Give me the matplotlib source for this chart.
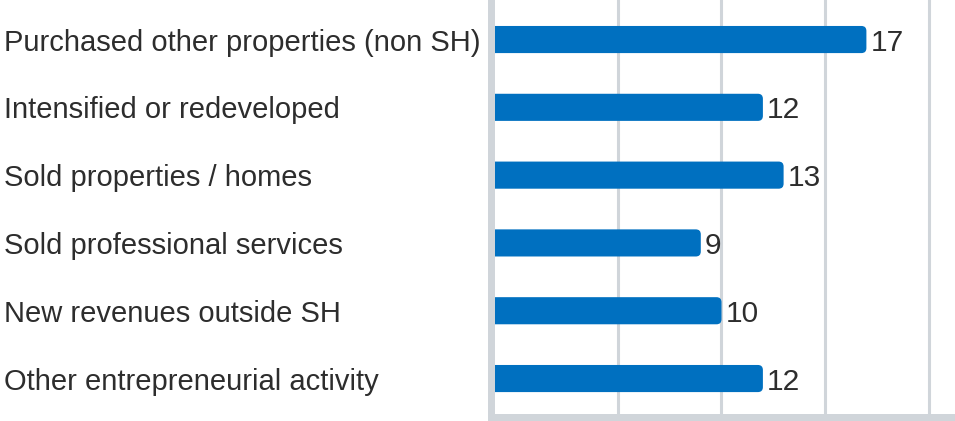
import matplotlib
matplotlib.use("Agg")
import matplotlib.pyplot as plt
from matplotlib.patches import FancyBboxPatch

categories = [
    "Purchased other properties (non SH)",
    "Intensified or redeveloped",
    "Sold properties / homes",
    "Sold professional services",
    "New revenues outside SH",
    "Other entrepreneurial activity",
]
values = [17, 12, 13, 9, 10, 12]
grid_ticks = [5, 10, 15, 20]

BAR = "#0070c0"
GRID = "#d0d5da"
TEXT = "#2d2d2d"

W, H, DPI = 955, 421, 100
fig = plt.figure(figsize=(W / DPI, H / DPI), dpi=DPI)
ax_left_px, ax_bottom_px = 491, 4.5
ax = fig.add_axes([ax_left_px / W, ax_bottom_px / H, 1 - ax_left_px / W, 1 - ax_bottom_px / H])

xmin, xmax = -1.135, 21.28
ymin, ymax = 5.56, -0.583
ax.set_xlim(xmin, xmax)
ax.set_ylim(ymin, ymax)

ypos = list(range(len(categories)))
bar_h = 0.4

# pixel scales for rounded corners
ax_w_px = W - ax_left_px
ax_h_px = H - ax_bottom_px
px_x = (xmax - xmin) / ax_w_px
px_y = abs(ymin - ymax) / ax_h_px
r_px = 5
start = xmin - 0.5
for y, v in zip(ypos, values):
    p = FancyBboxPatch((start, y - bar_h / 2), v - start, bar_h,
                       boxstyle=f"round,pad=0,rounding_size={r_px * px_x}",
                       mutation_aspect=px_y / px_x,
                       facecolor=BAR, edgecolor="none", zorder=3, clip_on=True)
    ax.add_patch(p)
    ax.annotate(str(v), xy=(v, y), xytext=(4, 0), textcoords="offset pixels",
                va="center_baseline", ha="left", fontsize=21.5,
                family="Liberation Sans", color=TEXT, zorder=4)

ax.set_xticks(grid_ticks)
ax.set_xticklabels([])
ax.tick_params(axis="x", length=0)
ax.grid(axis="x", color=GRID, linewidth=2.2, zorder=0)
ax.set_axisbelow(True)

ax.set_yticks(ypos)
ax.set_yticklabels(categories, ha="left", fontsize=21, family="Liberation Sans", color=TEXT)
ax.tick_params(axis="y", length=0, pad=(ax_left_px - 4) * 72 / DPI)

for s in ["top", "right"]:
    ax.spines[s].set_visible(False)
for s in ["left", "bottom"]:
    ax.spines[s].set_color(GRID)
    ax.spines[s].set_linewidth(7 * 72 / DPI)
    ax.spines[s].set_zorder(5)
    ax.spines[s].set_capstyle("projecting")

fig.savefig("out.png", dpi=DPI)
